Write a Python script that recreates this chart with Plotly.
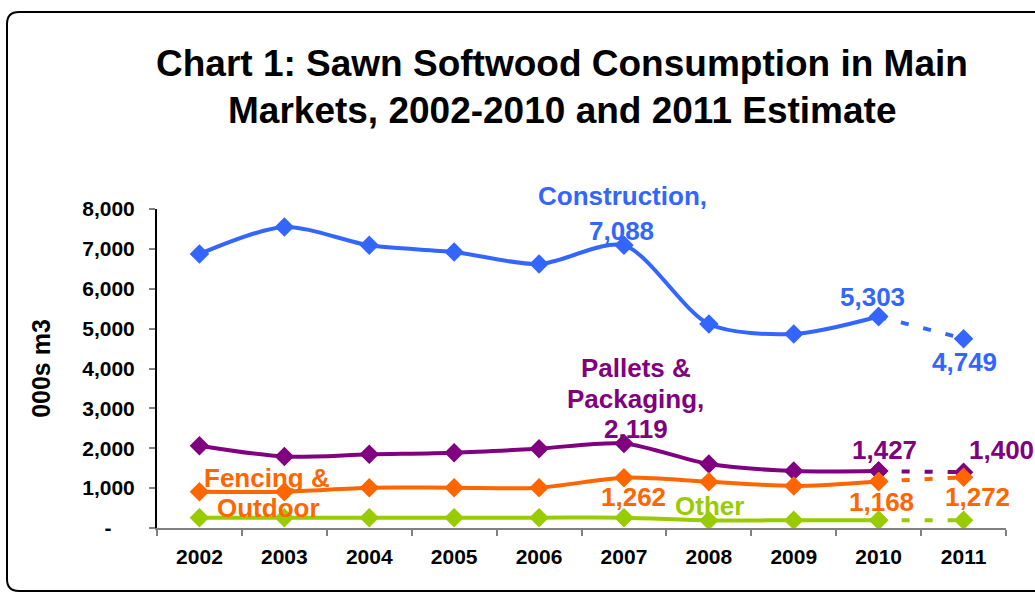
import plotly.graph_objects as go

years = ["2002", "2003", "2004", "2005", "2006", "2007", "2008", "2009", "2010", "2011"]
construction = [6870, 7550, 7090, 6920, 6620, 7088, 5116, 4865, 5303, 4749]
pallets = [2064, 1790, 1847, 1889, 1990, 2119, 1604, 1429, 1427, 1400]
fencing = [911, 911, 1011, 1011, 1011, 1262, 1161, 1053, 1168, 1272]
other = [259, 259, 259, 259, 259, 259, 190, 195, 195, 195]

ytick_vals = [0, 1000, 2000, 3000, 4000, 5000, 6000, 7000, 8000]
ytick_text = ["-\u00a0\u00a0\u00a0\u00a0", "1,000", "2,000", "3,000", "4,000", "5,000", "6,000", "7,000", "8,000"]

title_lines = ["Chart 1: Sawn Softwood Consumption in Main", "Markets, 2002-2010 and 2011 Estimate"]
y_title = "<b>000s m3</b>"

series = [
    ("Construction", construction, "#3366FF"),
    ("Pallets & Packaging", pallets, "#800080"),
    ("Fencing & Outdoor", fencing, "#FF6600"),
    ("Other", other, "#99CC00"),
]

FONT = "Liberation Sans, Arial, sans-serif"
W, H = 1035, 592
ML, MR, MT, MB = 157, 29, 209, 64

fig = go.Figure()
for name, vals, col in series:
    fig.add_trace(go.Scatter(
        x=years[:9], y=vals[:9], mode="lines+markers", name=name,
        line=dict(color=col, width=4, shape="spline", smoothing=0.8),
        marker=dict(symbol="diamond", size=15, color=col),
        showlegend=False))
    fig.add_trace(go.Scatter(
        x=years[8:], y=vals[8:], mode="lines+markers", name=name + " est.",
        line=dict(color=col, width=4, dash="8px,15px"),
        marker=dict(symbol="diamond", size=15, color=col),
        showlegend=False))

# labels: (text, series index, point index, dx px, dy px (up +))
labels = [
    ("Construction,", 0, 5, -1, 49),
    ("7,088", 0, 5, -2, 14),
    ("5,303", 0, 8, -6, 20),
    ("4,749", 0, 9, 1, -23),
    ("Pallets &", 1, 5, 12, 76),
    ("Packaging,", 1, 5, 12, 45),
    ("2,119", 1, 5, 12, 15),
    ("1,427", 1, 8, 6, 21),
    ("1,400", 1, 9, 38, 22),
    ("Fencing &", 2, 0, 68, 14),
    ("Outdoor", 2, 0, 69, -16),
    ("1,262", 2, 5, 10, -19),
    ("1,168", 2, 8, 3, -21),
    ("1,272", 2, 9, 14, -20),
    ("Other", 3, 6, 1, 14),
]
annotations = []
for text, si, pi, dx, dy in labels:
    name, vals, col = series[si]
    annotations.append(dict(x=pi, y=vals[pi], xref="x", yref="y", text="<b>" + text + "</b>",
                            showarrow=False, xshift=dx, yshift=dy, xanchor="center", yanchor="middle",
                            font=dict(family=FONT, size=26, color=col)))

pw, ph = W - ML - MR, H - MT - MB
def px(x):
    return (x - ML) / pw
def py(y):
    return (H - MB - y) / ph

for line, cy in zip(title_lines, [63, 110]):
    annotations.append(dict(x=px(562), y=py(cy), xref="paper", yref="paper", text="<b>" + line + "</b>",
                            showarrow=False, xanchor="center", yanchor="middle",
                            font=dict(family=FONT, size=37, color="black")))

L, T, R, B, r = 7, 12, 1045, 591, 12
path = (f"M {px(R)},{py(T)} L {px(L + r)},{py(T)} Q {px(L)},{py(T)} {px(L)},{py(T + r)} "
        f"L {px(L)},{py(B - r)} Q {px(L)},{py(B)} {px(L + r)},{py(B)} L {px(R)},{py(B)}")

fig.update_layout(
    width=W, height=H,
    margin=dict(l=ML, r=MR, t=MT, b=MB, pad=0),
    paper_bgcolor="white", plot_bgcolor="white",
    font=dict(family=FONT, color="black"),
    showlegend=False,
    annotations=annotations,
    shapes=[dict(type="path", path=path, xref="paper", yref="paper",
                 line=dict(color="#000000", width=2), layer="below")],
)
fig.update_xaxes(type="category", categoryorder="array", categoryarray=years, range=[-0.5, 9.5],
                 showline=True, linecolor="#808080", linewidth=2, ticks="outside", tickson="boundaries",
                 ticklen=6, tickcolor="#808080", tickwidth=2, showgrid=False, zeroline=False,
                 tickfont=dict(family=FONT, size=21, color="black"), ticklabelstandoff=9,
                 tickprefix="<b>", ticksuffix="</b>", automargin=False)
fig.update_yaxes(range=[0, 8000], tickvals=ytick_vals, ticktext=["<b>" + t + "</b>" for t in ytick_text],
                 showline=True, linecolor="#000000", linewidth=2, ticks="outside", ticklen=6,
                 tickcolor="#808080", tickwidth=2, showgrid=False, zeroline=False,
                 tickfont=dict(family=FONT, size=21, color="black"), ticklabelstandoff=10,
                 title=dict(text=y_title, font=dict(family=FONT, size=25, color="black"), standoff=24),
                 automargin=False)

fig.write_html("out.html", config={"displayModeBar": False},
               post_script="document.body.style.margin='0px';")
